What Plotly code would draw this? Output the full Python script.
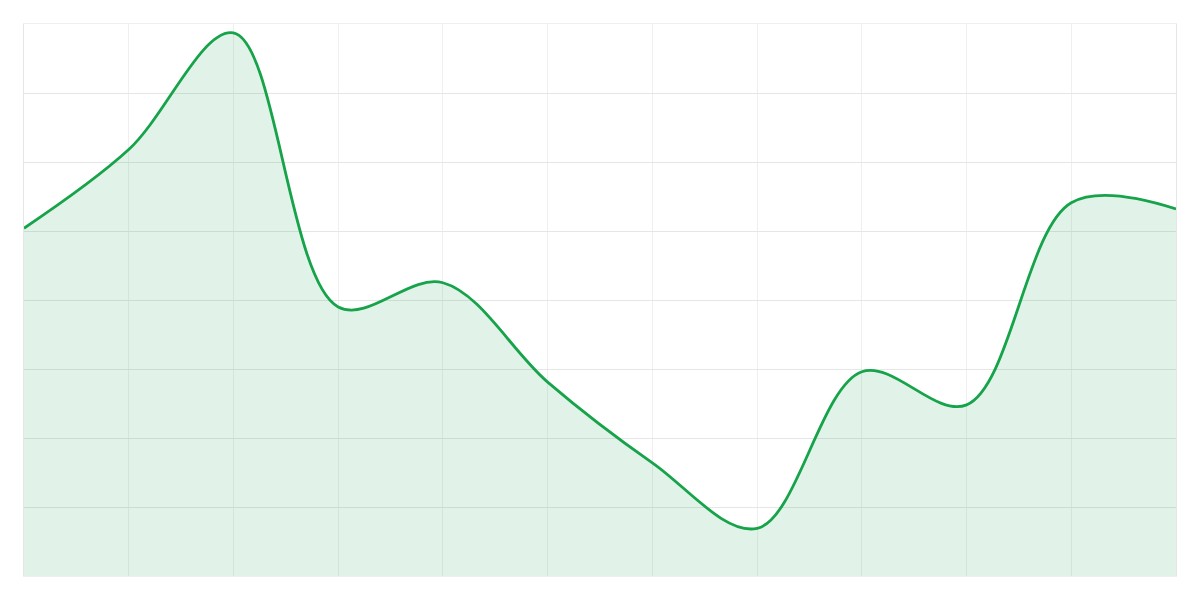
import plotly.graph_objects as go

# valores (12 pontos, eixo y de 0 a 80)
pontos = list(range(12))
valores = [50.4, 61.8, 78.7, 39.0, 42.5, 28.1, 16.4, 6.9, 29.6, 24.8, 54.1, 53.2]

cor_linha = "#16a34a"
cor_grelha = "#e6e6e6"

fig = go.Figure()

fig.add_trace(go.Scatter(
    x=pontos,
    y=valores,
    mode="lines",
    line=dict(color=cor_linha, width=2.8, shape="spline", smoothing=1),
    fill="tozeroy",
    fillcolor="rgba(22,163,74,0.13)",
    hoverinfo="skip",
    showlegend=False,
))

# a página tem 8px de margem no body, por isso a figura é um pouco menor
fig.update_layout(
    width=1184,
    height=584,
    margin=dict(l=16, r=16, t=16, b=16),
    paper_bgcolor="white",
    plot_bgcolor="white",
)

fig.update_xaxes(
    range=[0, 11],
    dtick=1,
    showticklabels=False,
    showgrid=True,
    gridcolor="#efefef",
    zeroline=False,
    showline=True,
    mirror=True,
    linecolor="#efefef",
    linewidth=1,
)
fig.update_yaxes(
    range=[0, 80],
    dtick=10,
    showticklabels=False,
    showgrid=True,
    gridcolor=cor_grelha,
    zeroline=False,
    showline=True,
    mirror=True,
    linecolor=cor_grelha,
    linewidth=1,
)

fig.write_html("out.html")
